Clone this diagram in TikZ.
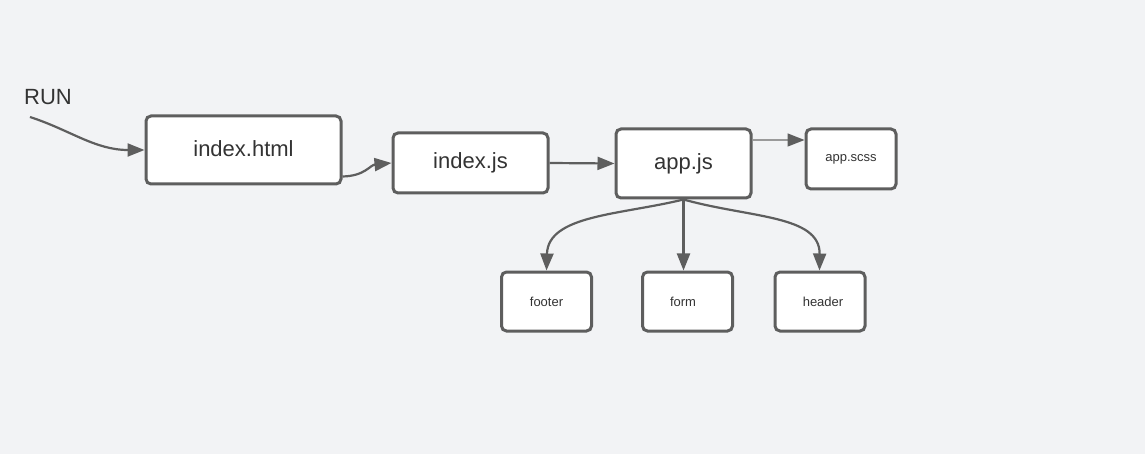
\documentclass[tikz,border=0pt]{standalone}
\usepackage{fontspec}
\setmainfont{Liberation Sans}
\usetikzlibrary{arrows.meta}
\definecolor{bg}{HTML}{F2F3F5}
\definecolor{edge}{HTML}{5E5E5E}
\definecolor{txt}{HTML}{333333}
\definecolor{thin}{HTML}{9A9A9A}
\tikzset{
  box/.style={draw=edge, fill=white, line width=3pt, rounded corners=5pt, inner sep=0pt, text=txt},
  bigbox/.style={box, font=\fontsize{22}{26}\selectfont},
  smallbox/.style={box, font=\fontsize{13}{16}\selectfont, minimum width=90pt, minimum height=59pt},
  conn/.style={draw=edge, line width=2.2pt, -{Triangle[length=17pt,width=13pt]}},
  lightconn/.style={draw=thin, line width=1.4pt, -{Triangle[length=17pt,width=13pt,color=edge,fill=edge]}},
}
\begin{document}
\begin{tikzpicture}[x=1pt,y=-1pt]
\fill[bg] (0,0) rectangle (1145,454);
\useasboundingbox (0,0) rectangle (1145,454);
\node[text=txt, font=\fontsize{22}{26}\selectfont] (run) at (48,97) {RUN};
\coordinate (runstart) at (30,117);
\node[bigbox, minimum width=195pt, minimum height=68pt] (html) at (243.5,150) {\raisebox{2pt}{index.html}};
\node[bigbox, minimum width=155pt, minimum height=60pt] (ijs) at (470.5,163) {\raisebox{2pt}{index.js}};
\node[bigbox, minimum width=135pt, minimum height=69pt] (app) at (683.5,163.5) {\raisebox{2pt}{app.js}};
\node[smallbox, minimum height=60pt] (scss) at (851,159) {\raisebox{2pt}{app.scss}};
\node[smallbox] (footer) at (546.5,301.5) {footer};
\node[smallbox] (form) at (687.5,301.5) {\hspace*{-9pt}form};
\node[smallbox] (header) at (820,301.5) {\hspace*{6pt}header};

\draw[conn] (runstart) .. controls (70,130) and (95,150) .. (html.west);
\draw[conn] ([yshift=9pt]html.south east) .. controls (365,176) and (370,165) .. (ijs.west);
\draw[conn] (ijs.east) -- (app.west);
\draw[lightconn] (app.east |- 0,140) -- (scss.west |- 0,140);
\draw[conn] (app.south) .. controls (620,215) and (548,215) .. (footer.north);
\draw[conn] (app.south) -- (app.south |- form.north);
\draw[conn] (app.south) .. controls (750,218) and (820,215) .. ([xshift=-0.5pt]header.north);
\end{tikzpicture}
\end{document}
